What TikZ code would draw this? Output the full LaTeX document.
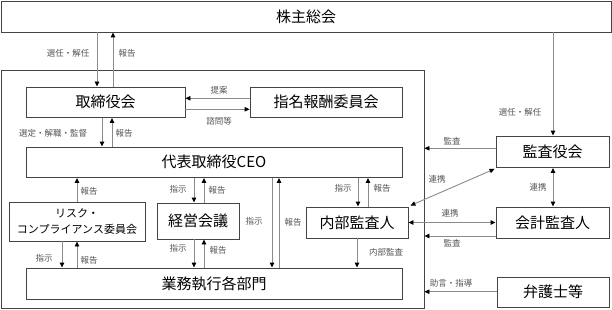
\documentclass[tikz,border=0pt]{standalone}
\usepackage{fontspec}
\newfontfamily\jp{Noto Sans CJK JP}
\usetikzlibrary{arrows.meta}
\definecolor{boxline}{HTML}{444444}
\definecolor{conn}{HTML}{8A8A8A}
\definecolor{lbl}{HTML}{555555}
\tikzset{
  bx/.style={draw=boxline,line width=0.9pt,inner sep=0pt,font=\jp\fontsize{15}{15}\selectfont,align=center},
  lab/.style={inner sep=0pt,text=lbl,font=\jp\fontsize{8.5}{9}\selectfont},
  arr/.style={draw=conn,line width=0.9pt,-{Triangle[width=4.5pt,length=5pt,color=black]}},
  darr/.style={draw=conn,line width=0.9pt,{Triangle[width=4.5pt,length=5pt,color=black]}-{Triangle[width=4.5pt,length=5pt,color=black]}}
}
\begin{document}
\begin{tikzpicture}[x=1pt,y=-1pt]
\useasboundingbox (0,0) rectangle (612,310);
\fill[white] (0,0) rectangle (612,310);
% frame
\node[draw=boxline,line width=0.9pt,inner sep=0pt,minimum width=423pt,minimum height=238pt] (frame) at (212.5,189) {};
% boxes
\node[bx,minimum width=610pt,minimum height=31pt] (kabu) at (306,16.5) {株主総会};
\node[bx,minimum width=159pt,minimum height=30.5pt] (tori) at (105.5,102.25) {取締役会};
\node[bx,minimum width=152pt,minimum height=30.5pt] (shimei) at (326,102.25) {指名報酬委員会};
\node[bx,minimum width=376pt,minimum height=30.5pt] (ceo) at (214,162.25) {代表取締役CEO};
\node[bx,minimum width=113pt,minimum height=31.5pt] (kansa) at (552.5,151.75) {監査役会};
\node[bx,minimum width=136pt,minimum height=39pt,font=\jp\fontsize{11}{15.5}\selectfont] (risk) at (77,221.5) {リスク・\\コンプライアンス委員会};
\node[bx,minimum width=82pt,minimum height=36pt] (keiei) at (198,221) {経営会議};
\node[bx,minimum width=102pt,minimum height=31pt] (naibu) at (357,222.5) {内部監査人};
\node[bx,minimum width=113pt,minimum height=31pt] (kaikei) at (552.5,222.5) {会計監査人};
\node[bx,minimum width=376pt,minimum height=31pt] (gyomu) at (214,283.5) {業務執行各部門};
\node[bx,minimum width=112pt,minimum height=30pt] (bengo) at (553,292) {弁護士等};
% helper coordinates
\coordinate (x97) at (97,0);
\coordinate (x113) at (113,0);
\coordinate (x553) at (553,0);
\coordinate (x102) at (102,0);
\coordinate (x112) at (112,0);
\coordinate (x62) at (62,0);
\coordinate (x77) at (77,0);
\coordinate (x194) at (194,0);
\coordinate (x204) at (204,0);
\coordinate (x272) at (272,0);
\coordinate (x279) at (279,0);
\coordinate (x357) at (357,0);
\coordinate (x358) at (358,0);
\coordinate (x368) at (368,0);
\coordinate (y98) at (0,98.3);
\coordinate (y109) at (0,109.3);
\coordinate (y148) at (0,148.3);
\coordinate (y222) at (0,222.5);
\coordinate (y236) at (0,236);
\coordinate (y292) at (0,291.7);
% connectors
\draw[arr] (kabu.south -| x97) -- (tori.north -| x97);
\draw[arr] (tori.north -| x113) -- (kabu.south -| x113);
\draw[arr] (kabu.south -| x553) -- (kansa.north -| x553);
\draw[arr] (shimei.west |- y98) -- (tori.east |- y98);
\draw[arr] (tori.east |- y109) -- (shimei.west |- y109);
\draw[arr] (tori.south -| x102) -- (ceo.north -| x102);
\draw[arr] (ceo.north -| x112) -- (tori.south -| x112);
\draw[arr] (risk.north -| x77) -- (ceo.south -| x77);
\draw[arr] (ceo.south -| x194) -- (keiei.north -| x194);
\draw[arr] (keiei.north -| x204) -- (ceo.south -| x204);
\draw[arr] (ceo.south -| x272) -- (gyomu.north -| x272);
\draw[arr] (gyomu.north -| x279) -- (ceo.south -| x279);
\draw[arr] (ceo.south -| x358) -- (naibu.north -| x358);
\draw[arr] (naibu.north -| x368) -- (ceo.south -| x368);
\draw[arr] (risk.south -| x62) -- (gyomu.north -| x62);
\draw[arr] (gyomu.north -| x77) -- (risk.south -| x77);
\draw[arr] (keiei.south -| x194) -- (gyomu.north -| x194);
\draw[arr] (gyomu.north -| x204) -- (keiei.south -| x204);
\draw[arr] (naibu.south -| x357) -- (gyomu.north -| x357);
\draw[arr] (kansa.west |- y148) -- (frame.east |- y148);
\draw[darr] ([shift={(2,-1)}]naibu.north east) -- ([shift={(-1,1)}]kansa.south west);
\draw[darr] (kansa.south -| x553) -- (kaikei.north -| x553);
\draw[darr] (naibu.east |- y222) -- (kaikei.west |- y222);
\draw[arr] (kaikei.west |- y236) -- (frame.east |- y236);
\draw[arr] (bengo.west |- y292) -- (frame.east |- y292);
% labels
\node[lab] (l1) at (68,53) {選任・解任};
\node[lab] (l2) at (127,53) {報告};
\node[lab] (l3) at (520,112) {選任・解任};
\node[lab] (l4) at (219,90.5) {提案};
\node[lab] (l5) at (219,121) {諮問等};
\node[lab] (l6) at (53,133) {選定・解職・監督};
\node[lab] (l7) at (124,133) {報告};
\node[lab] (l8) at (89,191) {報告};
\node[lab] (l9) at (178,189) {指示};
\node[lab] (l10) at (217,190) {報告};
\node[lab] (l11) at (254,221) {指示};
\node[lab] (l12) at (293,222) {報告};
\node[lab] (l13) at (343,188) {指示};
\node[lab] (l14) at (382,188) {報告};
\node[lab] (l15) at (44,258) {指示};
\node[lab] (l16) at (89,260) {報告};
\node[lab] (l17) at (178,248) {指示};
\node[lab] (l18) at (218,250) {報告};
\node[lab] (l19) at (386,252) {内部監査};
\node[lab] (l20) at (452,141.5) {監査};
\node[lab] (l21) at (437,179) {連携};
\node[lab] (l22) at (538,187) {連携};
\node[lab] (l23) at (450,213) {連携};
\node[lab] (l24) at (452,243) {監査};
\node[lab] (l25) at (451,283) {助言・指導};
\end{tikzpicture}
\end{document}
